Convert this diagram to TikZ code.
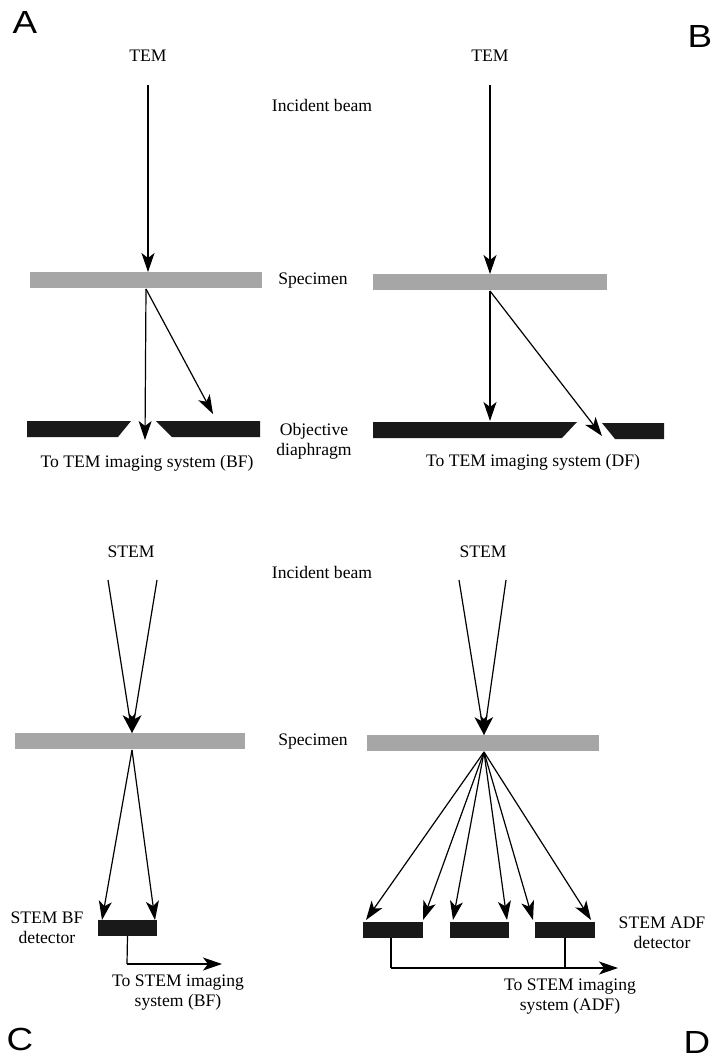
\documentclass[tikz,border=0pt]{standalone}
\usepackage{fontspec}
\usepackage{graphicx}
\setmainfont{Liberation Serif}
\newfontfamily\lettfont{Liberation Sans}
\usetikzlibrary{arrows.meta}
\begin{document}
\begin{tikzpicture}[x=1pt,y=-1pt,
  lbl/.style={font=\fontsize{17.6}{20}\selectfont, inner sep=0pt, align=center},
  panel/.style={font=\lettfont\fontsize{32}{34}\selectfont, inner sep=0pt},
  spec/.style={fill=black!35, inner sep=0pt, outer sep=0pt},
  diaph/.style={fill=black!90},
  det/.style={fill=black!90, inner sep=0pt, outer sep=0pt},
  beam/.style={line width=1.2pt, -{Stealth[length=19pt,width=13pt,inset=5pt]}},
  wire/.style={line width=1.2pt}]
\useasboundingbox (0,0) rectangle (715,1059);

% panel letters
\node[panel] (lA) at (25,22) {\scalebox{1.15}[1]{A}};
\node[panel] (lB) at (700,36) {\scalebox{1.15}[1]{B}};
\node[panel] (lC) at (20,1039) {\scalebox{1.15}[1]{C}};
\node[panel] (lD) at (697,1042) {\scalebox{1.15}[1]{D}};

% ---------- A ----------
\node[lbl] (temA) at (148,56) {TEM};
\node[lbl] (incA) at (322,105) {Incident beam};
\node[spec, minimum width=232pt, minimum height=16pt] (specA) at (146,280) {};
\node[lbl] (specL1) at (313,281) {Specimen};
\coordinate (srcA) at (148,85);
\coordinate (hitA) at (148,272);
\coordinate (outA) at (146,289);
\coordinate (tipA1) at (145,440);
\coordinate (tipA2) at (213,414);
\draw[beam] (srcA) -- (hitA);
\draw[beam] (outA) -- (tipA1);
\draw[beam] (outA) -- (tipA2);
\fill[diaph] (27,421) -- (131,421) -- (118,437) -- (27,437) -- cycle;
\fill[diaph] (156,421) -- (260,421) -- (260,437) -- (172,437) -- cycle;
\node[lbl] (objL) at (314,441) {Objective\\diaphragm};
\node[lbl] (toA) at (147,463) {To TEM imaging system (BF)};

% ---------- B ----------
\node[lbl] (temB) at (490,56) {TEM};
\node[spec, minimum width=234pt, minimum height=16pt] (specB) at (490,282) {};
\coordinate (srcB) at (490,85);
\coordinate (hitB) at (490,274);
\coordinate (outB) at (490,291);
\coordinate (tipB1) at (490,421);
\coordinate (tipB2) at (602,436);
\draw[beam] (srcB) -- (hitB);
\draw[beam] (outB) -- (tipB1);
\draw[beam] (outB) -- (tipB2);
\fill[diaph] (373,422) -- (577,422) -- (562,438) -- (373,438) -- cycle;
\fill[diaph] (602,423) -- (664,423) -- (664,439) -- (615,439) -- cycle;
\node[lbl] (toB) at (533,462) {To TEM imaging system (DF)};

% ---------- C ----------
\node[lbl] (stemC) at (131,552) {STEM};
\node[lbl] (incC) at (322,572) {Incident beam};
\node[spec, minimum width=230pt, minimum height=16pt] (specC) at (130,741) {};
\node[lbl] (specL2) at (313,742) {Specimen};
\coordinate (srcC1) at (108,580);
\coordinate (srcC2) at (157,580);
\coordinate (hitC) at (132,733);
\coordinate (outC) at (132,750);
\draw[beam] (srcC1) -- (hitC);
\draw[beam] (srcC2) -- (hitC);
\node[det, minimum width=59pt, minimum height=16pt] (detC) at (127.5,928) {};
\draw[beam] (outC) -- (detC.north west -| 102,0);
\draw[beam] (outC) -- (detC.north east -| 155,0);
\node[lbl] (detCL) at (47,928) {STEM BF\\detector};
\coordinate (turnC) at (127,964);
\coordinate (endC) at (222,964);
\draw[wire] (detC.south) -- (turnC);
\draw[beam] (turnC) -- (endC);
\node[lbl] (toC) at (178,993) {To STEM imaging\\system (BF)};

% ---------- D ----------
\node[lbl] (stemD) at (483,552) {STEM};
\node[spec, minimum width=232pt, minimum height=16pt] (specD) at (483,743) {};
\coordinate (srcD1) at (459,580);
\coordinate (srcD2) at (506,580);
\coordinate (hitD) at (484,735);
\coordinate (outD) at (484,752);
\draw[beam] (srcD1) -- (hitD);
\draw[beam] (srcD2) -- (hitD);
\node[det, minimum width=60pt, minimum height=16pt] (detD1) at (393,930) {};
\node[det, minimum width=59pt, minimum height=16pt] (detD2) at (479.5,930) {};
\node[det, minimum width=60pt, minimum height=16pt] (detD3) at (565,930) {};
\coordinate (tD1) at (366,920);
\coordinate (tD2) at (423,920);
\coordinate (tD3) at (453,920);
\coordinate (tD4) at (507,920);
\coordinate (tD5) at (533,920);
\coordinate (tD6) at (591,920);
\foreach \t in {tD1,tD2,tD3,tD4,tD5,tD6}
  \draw[beam] (outD) -- (\t);
\node[lbl] (detDL) at (662,933) {STEM ADF\\detector};
\coordinate (turnD1) at (391,968);
\coordinate (turnD3) at (565,968);
\coordinate (endD) at (618,968);
\draw[wire] (detD1.south -| turnD1) -- (turnD1);
\draw[wire] (detD3.south) -- (turnD3);
\draw[beam] (turnD1) -- (endD);
\node[lbl] (toD) at (570,997) {To STEM imaging\\system (ADF)};
\end{tikzpicture}
\end{document}
